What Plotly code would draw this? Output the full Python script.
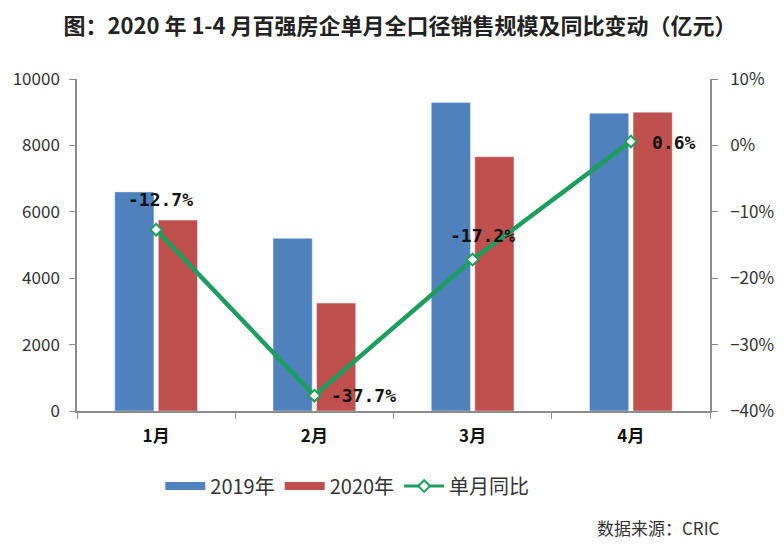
import plotly.graph_objects as go

months = ["1月", "2月", "3月", "4月"]
sales_2019 = [6600, 5200, 9290, 8970]
sales_2020 = [5750, 3250, 7660, 9000]
yoy = [-0.127, -0.377, -0.172, 0.006]
yoy_labels = ["-12.7%", "-37.7%", "-17.2%", "0.6%"]

# label placement relative to each point (style only)
label_anchor = ["center", "left", "center", "left"]
label_dx = [4, 15, 10, 19]
label_dy = [30, 0, 24, -1]

_BLUE = "#4F81BD"
_RED = "#C0504D"
_GREEN = "#1E9E5E"
_AXIS = "#8c8c8c"
_FONT = "Noto Sans CJK SC, sans-serif"

fig = go.Figure()

fig.add_trace(go.Bar(
    x=months, y=sales_2019, name="2019年", showlegend=False,
    marker={"color": _BLUE},
))
fig.add_trace(go.Bar(
    x=months, y=sales_2020, name="2020年", showlegend=False,
    marker={"color": _RED},
))
fig.add_trace(go.Scatter(
    x=months, y=yoy, name="单月同比", yaxis="y2", showlegend=False,
    mode="lines+markers",
    line={"color": _GREEN, "width": 4.5},
    marker={"symbol": "diamond", "size": 9, "color": "white",
            "line": {"color": _GREEN, "width": 2}},
))

# legend-only entries so the bar keys show as wide bands like the original
fig.add_trace(go.Scatter(x=[None], y=[None], name="2019年", mode="lines",
                         line={"color": _BLUE, "width": 8}))
fig.add_trace(go.Scatter(x=[None], y=[None], name="2020年", mode="lines",
                         line={"color": _RED, "width": 8}))
fig.add_trace(go.Scatter(x=[None], y=[None], name="单月同比", mode="lines+markers",
                         line={"color": _GREEN, "width": 3},
                         marker={"symbol": "diamond", "size": 9, "color": "white",
                                 "line": {"color": _GREEN, "width": 2}}))

annotations = [
    {"text": f"<b>{t}</b>", "x": m, "y": v, "xref": "x", "yref": "y2",
     "xanchor": a, "yanchor": "middle", "xshift": dx, "yshift": dy, "showarrow": False,
     "font": {"family": "DejaVu Sans Mono, monospace", "size": 18, "color": "#111"}}
    for m, v, t, a, dx, dy in zip(months, yoy, yoy_labels, label_anchor, label_dx, label_dy)
]
annotations.append({"text": "数据来源：CRIC", "xref": "paper", "yref": "paper",
                    "x": 1.019, "xanchor": "right", "y": -0.352, "yanchor": "middle",
                    "showarrow": False, "font": {"size": 17, "color": "#333"}})

fig.update_layout(
    width=784, height=547,
    title={"text": "<b>图：2020 年 1-4 月百强房企单月全口径销售规模及同比变动（亿元）</b>",
           "x": 0.5, "xanchor": "center", "y": 0.966, "yanchor": "middle",
           "font": {"size": 22, "color": "#222"}},
    margin={"l": 69, "r": 82, "t": 71, "b": 144},
    font={"family": _FONT, "size": 16, "color": "#333"},
    plot_bgcolor="white",
    paper_bgcolor="white",
    barmode="group",
    bargap=0.45,
    bargroupgap=0.1,
    showlegend=True,
    legend={"orientation": "h", "x": 0.427, "xanchor": "center", "y": -0.226,
            "yanchor": "middle", "font": {"size": 20, "color": "#333"},
            "itemwidth": 40, "traceorder": "normal"},
    xaxis={"showline": True, "linecolor": _AXIS, "linewidth": 1.5,
           "ticks": "outside", "tickson": "boundaries", "tickcolor": _AXIS, "ticklen": 6,
           "tickfont": {"size": 17, "color": "#111"}, "showgrid": False,
           "ticklabelstandoff": 9, "automargin": False,
           "tickprefix": "<b>", "ticksuffix": "</b>"},
    yaxis={"range": [0, 10000], "dtick": 2000, "tickformat": "d", "showline": True,
           "linecolor": _AXIS, "automargin": False, "ticklabelstandoff": 6,
           "linewidth": 1.5, "ticks": "outside", "tickcolor": _AXIS, "ticklen": 6,
           "showgrid": False, "zeroline": False, "tickfont": {"size": 17}},
    yaxis2={"range": [-0.4, 0.1], "dtick": 0.1, "tickformat": ".0%", "overlaying": "y",
            "side": "right", "showline": True, "linecolor": _AXIS, "linewidth": 1.5,
            "automargin": False, "ticklabelstandoff": 9,
            "ticks": "outside", "tickcolor": _AXIS, "ticklen": 6,
            "showgrid": False, "zeroline": False, "tickfont": {"size": 17}},
    annotations=annotations,
)

fig.write_html("out.html")
